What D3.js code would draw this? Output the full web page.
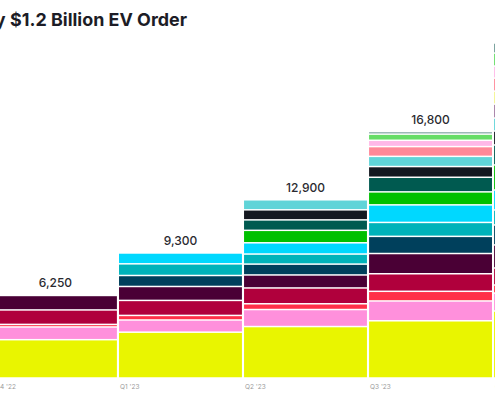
<!DOCTYPE html>
<html>
<head>
<meta charset="utf-8">
<script src="https://cdn.jsdelivr.net/npm/d3@7"></script>
<style>
  html, body { margin: 0; padding: 0; background: #fff; overflow: hidden; }
  svg { display: block; font-family: Inter, "Noto Sans", sans-serif; }
</style>
</head>
<body>
<svg width="495" height="400"></svg>
<script>
// quarters and the total printed above each bar
const quarters = ["Q4 '22", "Q1 '23", "Q2 '23", "Q3 '23", "Q4 '23"];
const totalLabels = [6250, 9300, 12900, 16800, 25000];

// stacked series, bottom to top, one value per quarter
const seriesNames = [
  "s01", "s02", "s03", "s04", "s05", "s06", "s07", "s08", "s09",
  "s10", "s11", "s12", "s13", "s14", "s15", "s16", "s17", "s18"
];
const seriesColors = [
  "#e9f500", "#ff90dc", "#ff3048", "#b0003c", "#4a0035", "#00405c",
  "#00b3ba", "#00d8ff", "#00c000", "#005a50", "#141820", "#60d4d8",
  "#a37ba3", "#f3f58e", "#ff8898", "#ffb8e8", "#66dd66", "#6f9a96"
];
const seriesValues = [
  [2860, 3420, 3840, 4270, 5000],
  [950, 910, 1270, 1480, 1340],
  [190, 340, 430, 720, 600],
  [1080, 1120, 1180, 1310, 1270],
  [1080, 1040, 970, 1510, 1720],
  [0, 820, 810, 1280, 1490],
  [0, 870, 750, 1040, 1120],
  [0, 810, 840, 1310, 1490],
  [0, 0, 930, 970, 1870],
  [0, 0, 780, 1090, 1490],
  [0, 0, 750, 800, 1040],
  [0, 0, 750, 760, 970],
  [0, 0, 0, 0, 1040],
  [0, 0, 0, 0, 970],
  [0, 0, 0, 730, 970],
  [0, 0, 0, 470, 900],
  [0, 0, 0, 460, 970],
  [0, 0, 0, 190, 750]
];

const svg = d3.select("svg");

// build a table the stack generator can use
const table = quarters.map((q, i) => {
  const row = { quarter: q };
  seriesNames.forEach((s, j) => (row[s] = seriesValues[j][i]));
  return row;
});

const stacked = d3.stack().keys(seriesNames)(table);

const x = d3.scaleBand()
  .domain(quarters)
  .range([-6, 617])
  .paddingInner(0.017)
  .paddingOuter(0);

const y = d3.scaleLinear()
  .domain([0, 25000])
  .range([378, 43]);

const color = d3.scaleOrdinal().domain(seriesNames).range(seriesColors);

// segments, with a thin white gap between them
svg.append("g")
  .selectAll("g")
  .data(stacked)
  .join("g")
  .attr("fill", (d) => color(d.key))
  .selectAll("rect")
  .data((d) => d.filter((p) => p[1] - p[0] > 0))
  .join("rect")
  .attr("x", (d) => x(d.data.quarter))
  .attr("width", x.bandwidth())
  .attr("y", (d) => y(d[1]) + 0.75)
  .attr("height", (d) => Math.max(0, y(d[0]) - y(d[1]) - 1.5));

// totals above the bars
svg.append("g")
  .selectAll("text")
  .data(table)
  .join("text")
  .attr("x", (d) => x(d.quarter) + x.bandwidth() / 2)
  .attr("y", (d) => y(d3.sum(seriesNames, (s) => d[s])) - 8)
  .attr("text-anchor", "middle")
  .attr("font-size", 12)
  .attr("font-weight", 500)
  .attr("fill", "#2a2a30")
  .text((d, i) => d3.format(",")(totalLabels[i]));

// quarter labels under the bars
const xAxis = svg.append("g")
  .attr("transform", "translate(0,380)")
  .call(d3.axisBottom(x).tickSize(0).tickPadding(4));
xAxis.select(".domain").remove();
xAxis.selectAll("text")
  .attr("x", -x.bandwidth() / 2 + 1)
  .attr("text-anchor", "start")
  .attr("font-size", 6.5)
  .attr("font-family", "Inter, sans-serif")
  .attr("fill", "#9a9a9a");

// title, cut off on the left like the original crop
svg.append("text")
  .attr("x", 5.5)
  .attr("y", 26)
  .attr("text-anchor", "end")
  .attr("font-size", 18)
  .attr("font-weight", 700)
  .attr("fill", "#1c1c26")
  .text("Rivian Deliveries Driven by");

svg.append("text")
  .attr("x", 10)
  .attr("y", 26)
  .attr("font-size", 18)
  .attr("font-weight", 700)
  .attr("fill", "#1c1c26")
  .attr("textLength", 177)
  .attr("lengthAdjust", "spacingAndGlyphs")
  .text("$1.2 Billion EV Order");
</script>
</body>
</html>
